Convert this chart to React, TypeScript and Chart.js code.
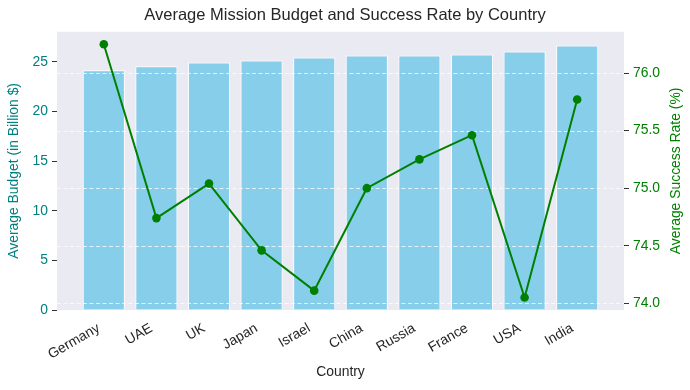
import React, { useEffect, useRef } from "react";
import { Chart, registerables } from "chart.js";

Chart.register(...registerables);

const countries = ["Germany", "UAE", "UK", "Japan", "Israel", "China", "Russia", "France", "USA", "India"];
const budgets = [24.13, 24.53, 24.93, 25.13, 25.43, 25.63, 25.63, 25.73, 26.03, 26.63];
const successRates = [76.25, 74.74, 75.04, 74.46, 74.11, 75.0, 75.25, 75.46, 74.05, 75.77];
const budgetTicks = [0, 5, 10, 15, 20, 25];
const rateTicks = [74.0, 74.5, 75.0, 75.5, 76.0];
const rightTitle = "Average Success Rate (%)";

const FONT = "'Liberation Sans', Arial, sans-serif";
const TEXT = "#262626";

export default function App() {
  const ref = useRef<HTMLCanvasElement | null>(null);
  useEffect(() => {
    if (!ref.current) return;
    const bgPlugin = {
      id: "bg",
      beforeDraw(chart: any) {
        const { ctx, chartArea } = chart;
        ctx.save();
        ctx.fillStyle = "#EAEAF2";
        ctx.fillRect(chartArea.left, chartArea.top, chartArea.right - chartArea.left, chartArea.bottom - chartArea.top);
        ctx.restore();
      },
      afterDatasetDraw(chart: any, args: any) {
        if (args.index !== 0) return;
        const { ctx, chartArea } = chart;
        const s = chart.scales.y1;
        ctx.save();
        ctx.strokeStyle = "rgba(255,255,255,0.75)";
        ctx.lineWidth = 1;
        ctx.setLineDash([4, 2.5]);
        for (const t of rateTicks) {
          const y = Math.round(s.getPixelForValue(t)) + 0.5;
          ctx.beginPath();
          ctx.moveTo(chartArea.left, y);
          ctx.lineTo(chartArea.right, y);
          ctx.stroke();
        }
        ctx.restore();
      },
      afterDraw(chart: any) {
        const { ctx, chartArea } = chart;
        ctx.save();
        ctx.translate(676, (chartArea.top + chartArea.bottom) / 2);
        ctx.rotate(-Math.PI / 2);
        ctx.fillStyle = "#008000";
        ctx.font = `13.9px ${FONT}`;
        ctx.textAlign = "center";
        ctx.textBaseline = "middle";
        ctx.fillText(rightTitle, 0, 0);
        ctx.restore();
      },
    };
    const chart = new Chart(ref.current, {
      type: "bar",
      data: {
        datasets: [
          {
            type: "bar",
            label: "Average Budget",
            data: budgets.map((v, i) => ({ x: i, y: v })),
            backgroundColor: "#87CEEB",
            borderColor: "#ffffff",
            borderWidth: 1,
            barPercentage: 0.8,
            categoryPercentage: 1,
            yAxisID: "y",
            order: 2,
          } as any,
          {
            type: "line",
            label: "Success Rate",
            data: successRates.map((v, i) => ({ x: i, y: v })),
            borderColor: "#008000",
            backgroundColor: "#008000",
            borderWidth: 2,
            pointRadius: 4.3,
            pointBackgroundColor: "#008000",
            pointBorderWidth: 0,
            yAxisID: "y1",
            order: 1,
          } as any,
        ],
      },
      options: {
        animation: false,
        responsive: false,
        maintainAspectRatio: false,
        layout: { padding: { left: 0, right: 0, top: 0, bottom: 0 } },
        plugins: {
          legend: { display: false },
          tooltip: { enabled: false },
          title: {
            display: true,
            text: "Average Mission Budget and Success Rate by Country",
            color: TEXT,
            font: { family: FONT, size: 16.5, weight: "normal" },
            padding: { top: 6, bottom: 6 },
          },
        },
        scales: {
          x: {
            type: "linear",
            offset: false,
            min: -0.89,
            max: 9.89,
            afterBuildTicks(scale: any) {
              scale.ticks = countries.map((_, i) => ({ value: i }));
            },
            afterFit(scale: any) {
              scale.height = 80;
            },
            ticks: {
              color: TEXT,
              font: { family: FONT, size: 13.9 },
              minRotation: 30,
              maxRotation: 30,
              autoSkip: false,
              padding: 2,
              labelOffset: -5,
              callback: (v: any) => countries[Math.round(Number(v))] ?? "",
            },
            grid: { display: false },
            border: { display: false },
            title: {
              display: true,
              text: "Country",
              color: TEXT,
              font: { family: FONT, size: 13.9 },
              padding: { top: 0, bottom: 9 },
            },
          },
          y: {
            type: "linear",
            position: "left",
            min: 0,
            max: 28.01,
            afterBuildTicks(scale: any) {
              scale.ticks = budgetTicks.map((v) => ({ value: v }));
            },
            afterFit(scale: any) {
              scale.width = 57;
            },
            ticks: {
              color: "#008080",
              font: { family: FONT, size: 13.9 },
              padding: 4,
            },
            grid: { display: true, drawOnChartArea: false, drawTicks: true, tickLength: 5, tickColor: "#333333", tickWidth: 1 },
            border: { display: false },
            title: {
              display: true,
              text: "Average Budget (in Billion $)",
              color: "#008080",
              font: { family: FONT, size: 13.9 },
              padding: { top: 6, bottom: 4 },
            },
          },
          y1: {
            type: "linear",
            position: "right",
            min: 73.942,
            max: 76.358,
            afterBuildTicks(scale: any) {
              scale.ticks = rateTicks.map((v) => ({ value: v }));
            },
            afterFit(scale: any) {
              scale.width = 66;
            },
            ticks: {
              color: "#008000",
              font: { family: FONT, size: 13.9 },
              padding: 4,
              callback: (v: any) => Number(v).toFixed(1),
            },
            grid: { display: true, drawOnChartArea: false, drawTicks: true, tickLength: 5, tickColor: "#333333", tickWidth: 1 },
            border: { display: false },
            title: { display: false },
          },
        },
      } as any,
      plugins: [bgPlugin],
    });
    return () => chart.destroy();
  }, []);
  return (
    <div style={{ position: "fixed", left: 0, top: 0, width: 690, height: 390, background: "#ffffff" }}>
      <canvas ref={ref} width={690} height={390} style={{ width: 690, height: 390 }} />
    </div>
  );
}
